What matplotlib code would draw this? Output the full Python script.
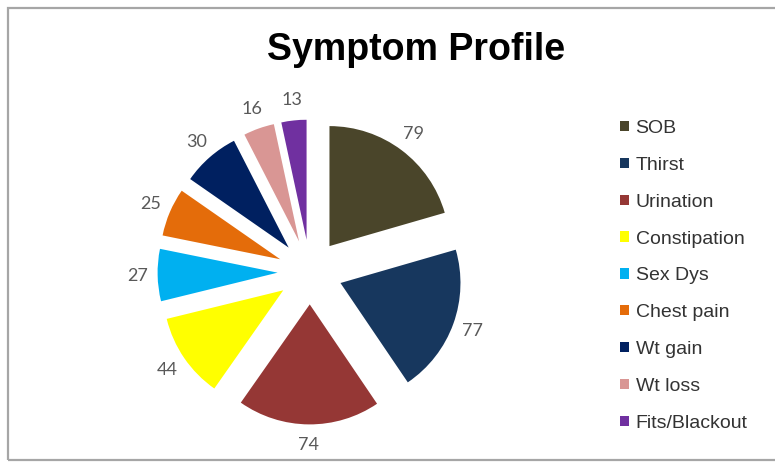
import matplotlib
matplotlib.use('Agg')
import matplotlib.pyplot as plt
from matplotlib.patches import Rectangle

symptoms = ['SOB', 'Thirst', 'Urination', 'Constipation', 'Sex Dys',
            'Chest pain', 'Wt gain', 'Wt loss', 'Fits/Blackout']
counts = [79, 77, 74, 44, 27, 25, 30, 16, 13]
colors = ['#4a452a', '#17375e', '#953735', '#ffff00', '#00b0f0',
          '#e46c0a', '#002060', '#d99694', '#7030a0']

fig = plt.figure(figsize=(7.75, 4.68), dpi=100)

# grey outer frame of the chart area
fig.patches.append(Rectangle((8 / 775, 8 / 468), 1.0, 452 / 468,
                             transform=fig.transFigure, fill=False,
                             edgecolor='#a6a6a6', linewidth=1.6))

fig.text(416 / 775, 1 - 60 / 468, 'Symptom Profile', ha='center', va='baseline',
         fontsize=27, fontweight='bold', family='Liberation Sans', color='black')

ax = fig.add_axes([118 / 775, 4 / 468, 384 / 775, 384 / 468])
total = sum(counts)
wedges, texts, autotexts = ax.pie(
    counts, colors=colors, startangle=90, counterclock=False,
    explode=[0.27] * len(counts), radius=1.0,
    autopct=lambda p: '%d' % round(p * total / 100), pctdistance=1.17,
    textprops=dict(color='#595959', fontsize=13, family='Lato'))
ax.set_xlim(-1.6, 1.6)
ax.set_ylim(-1.6, 1.6)
ax.set_aspect('equal')
ax.axis('off')

leg = fig.legend(wedges, symptoms, loc='upper left',
                 bbox_to_anchor=(620 / 775, 1 - 120 / 468),
                 frameon=False, borderaxespad=0, borderpad=0,
                 handlelength=0.45, handleheight=0.45, handletextpad=0.35,
                 labelspacing=1.02,
                 prop=dict(family='Liberation Sans', size=14))
for t in leg.get_texts():
    t.set_color('#333333')

fig.savefig('out.png', dpi=100)
